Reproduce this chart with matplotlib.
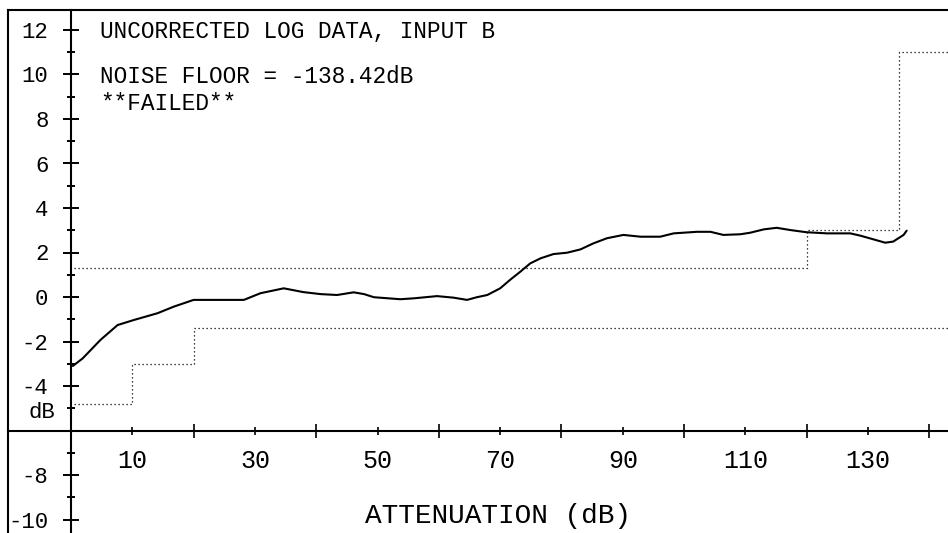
import matplotlib
matplotlib.use("Agg")
import matplotlib.pyplot as plt
from matplotlib.ticker import MultipleLocator, FixedLocator, FuncFormatter
from matplotlib.lines import Line2D

# ---------------- data ----------------
curve_x = [0.3, 1.9, 4.8, 7.6, 10.3, 14.1, 16.8, 20.0, 28.2, 30.9, 34.7, 37.9,
           40.7, 43.4, 46.1, 47.8, 49.4, 53.7, 55.9, 59.7, 62.4, 64.6, 66.2,
           67.9, 70.0, 71.7, 73.3, 74.9, 76.6, 78.7, 80.9, 83.1, 85.2, 87.4,
           90.1, 92.9, 96.1, 98.3, 102.1, 104.3, 106.4, 109.2, 110.8, 113.0,
           115.1, 117.3, 120.0, 123.3, 127.1, 128.7, 130.9, 132.8, 134.1,
           135.8, 136.3]
curve_y = [-3.1, -2.76, -1.93, -1.26, -1.03, -0.73, -0.43, -0.13, -0.13, 0.17,
           0.39, 0.22, 0.13, 0.09, 0.21, 0.13, -0.01, -0.10, -0.06, 0.04,
           -0.03, -0.13, -0.01, 0.09, 0.39, 0.79, 1.14, 1.51, 1.74, 1.93, 1.99,
           2.14, 2.41, 2.64, 2.79, 2.71, 2.71, 2.86, 2.93, 2.93, 2.79, 2.82,
           2.89, 3.04, 3.11, 3.01, 2.91, 2.86, 2.86, 2.76, 2.59, 2.44, 2.49,
           2.79, 2.98]

upper_x = [0.5, 120.0, 135.0, 143.0]
upper_y = [1.3, 3.0, 11.0, 11.0]
lower_x = [0.5, 10.0, 20.0, 143.0]
lower_y = [-4.8, -3.0, -1.4, -1.4]

y_major_ticks = [-10, -8, -6, -4, -2, 0, 2, 4, 6, 8, 10, 12]
y_minor_ticks = [-9, -7, -5, -3, -1, 1, 3, 5, 7, 9, 11]
x_major_ticks = [20, 40, 60, 80, 100, 120, 140]
x_label_ticks = [10, 30, 50, 70, 90, 110, 130]

title_lines = ["UNCORRECTED LOG DATA, INPUT B",
               "NOISE FLOOR = -138.42dB",
               "**FAILED**"]
x_label = "ATTENUATION (dB)"
y_unit = "dB"

# ---------------- figure ----------------
FONT = "Liberation Mono"
W, H, DPI = 948, 533, 100
fig = plt.figure(figsize=(W / DPI, H / DPI), dpi=DPI)
ax = fig.add_axes([8 / W, 0, 940 / W, 523 / H])

x0_px, sx = 71.0, 6.131
y0_px, sy = 297.0, 22.25
ax.set_xlim((8 - x0_px) / sx, (948 - x0_px) / sx)
ax.set_ylim((y0_px - 533) / sy, (y0_px - 10) / sy)

lw_axis = 1.5
ax.spines["right"].set_visible(False)
ax.spines["left"].set_position(("data", 0))
ax.spines["bottom"].set_position(("data", -6))
for s in ("left", "bottom", "top"):
    ax.spines[s].set_linewidth(lw_axis)
    ax.spines[s].set_color("black")

# outer frame left edge
ax.add_line(Line2D([0, 0], [0, 1], transform=ax.transAxes, color="black",
                   lw=lw_axis, clip_on=False))

# y axis ticks
ax.yaxis.set_major_locator(FixedLocator(y_major_ticks))
ax.yaxis.set_minor_locator(FixedLocator(y_minor_ticks))
ax.yaxis.set_major_formatter(FuncFormatter(lambda v, p: "" if int(round(v)) == -6 else str(int(round(v)))))
ax.tick_params(axis="y", which="major", direction="inout", length=11.5, width=1.4,
               pad=10.5, labelsize=16)
ax.tick_params(axis="y", which="minor", direction="inout", length=6, width=1.4)

# x axis ticks (labels at the minor positions)
ax.xaxis.set_major_locator(FixedLocator(x_major_ticks))
ax.xaxis.set_minor_locator(FixedLocator(x_label_ticks))
ax.xaxis.set_major_formatter(FuncFormatter(lambda v, p: ""))
ax.xaxis.set_minor_formatter(FuncFormatter(lambda v, p: str(int(round(v)))))
ax.tick_params(axis="x", which="major", direction="inout", length=10, width=1.2)
ax.tick_params(axis="x", which="minor", direction="inout", length=6, width=1.2,
               pad=10, labelsize=18)

for lab in ax.get_xticklabels(which="both") + ax.get_yticklabels(which="both"):
    lab.set_fontfamily(FONT)

# limit lines (dotted)
ax.plot(upper_x, upper_y, drawstyle="steps-post", color="black", lw=0.9,
        linestyle=(0, (1, 2.2)))
ax.plot(lower_x, lower_y, drawstyle="steps-post", color="black", lw=0.9,
        linestyle=(0, (1, 2.2)))

# measured curve
ax.plot(curve_x, curve_y, color="black", lw=1.5, solid_capstyle="round")

# texts
tx = (100 - x0_px) / sx
baselines_px = [38.5, 83.0, 110.0]
for line, b in zip(title_lines, baselines_px):
    ax.text(tx, (y0_px - b) / sy, line, fontsize=16.4, family=FONT,
            ha="left", va="baseline", color="black")

ax.text((497.5 - x0_px) / sx, (y0_px - 523) / sy, x_label, fontsize=20,
        family=FONT, ha="center", va="baseline", color="black")
ax.text((55 - x0_px) / sx, (y0_px - 418) / sy, y_unit, fontsize=16,
        family=FONT, ha="right", va="baseline", color="black")

fig.savefig("out.png", dpi=DPI)
